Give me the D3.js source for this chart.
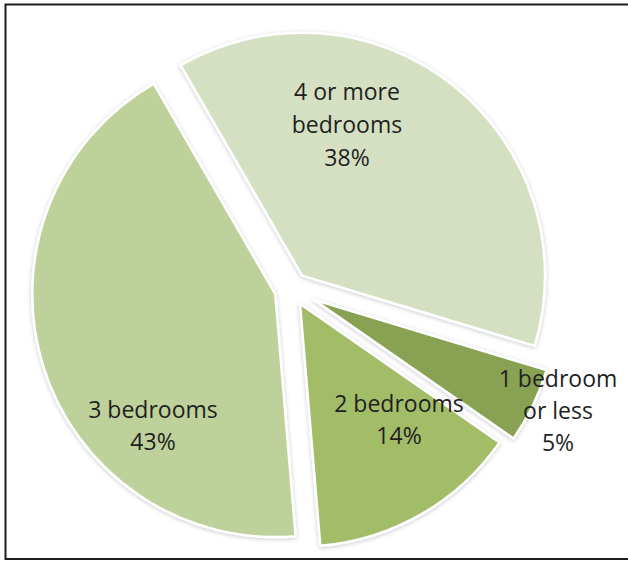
<!DOCTYPE html>
<html>
<head>
<meta charset="utf-8">
<script src="https://cdn.jsdelivr.net/npm/d3@7"></script>
<style>
  html, body { margin: 0; padding: 0; background: #fff; }
  svg { display: block; }
</style>
</head>
<body>
<svg id="chart" width="628" height="561"></svg>
<script>
// ---- data ----
const categories = ["4 or more bedrooms", "1 bedroom or less", "2 bedrooms", "3 bedrooms"];
const values = [38, 5, 14, 43];
const labelLines = [["4 or more", "bedrooms", "38%"], ["1 bedroom", "or less", "5%"], ["2 bedrooms", "14%"], ["3 bedrooms", "43%"]];
const colors = ["#d5e0c3", "#88a153", "#a3bc68", "#bfd19b"];
const explode = [17, 25, 17, 17];

const svg = d3.select("#chart");
const W = 628, H = 561;

// frame (right side cut off in the reference)
svg.append("path")
  .attr("d", `M${W + 2},4.5 H5.5 V559 H${W + 2}`)
  .attr("fill", "none").attr("stroke", "#1e1e1e").attr("stroke-width", 2);

const defs = svg.append("defs");
const f = defs.append("filter").attr("id", "sh").attr("x", "-10%").attr("y", "-10%").attr("width", "120%").attr("height", "120%");
f.append("feDropShadow").attr("dx", 0).attr("dy", 1).attr("stdDeviation", 2)
  .attr("flood-color", "#000").attr("flood-opacity", 0.22);

const cx = 291.5, cy = 289, R = 243;
const startA = -30 * Math.PI / 180;

const pie = d3.pie().sort(null).value(d => d)
  .startAngle(startA).endAngle(startA + 2 * Math.PI);
const arcs = pie(values);
const arc = d3.arc().innerRadius(0).outerRadius(R);

const g = svg.append("g").attr("transform", `translate(${cx},${cy})`);

g.selectAll("path.slice").data(arcs).enter().append("path")
  .attr("class", "slice")
  .attr("d", arc)
  .attr("transform", (d, i) => {
    const m = (d.startAngle + d.endAngle) / 2;
    return `translate(${Math.sin(m) * explode[i]},${-Math.cos(m) * explode[i]})`;
  })
  .attr("fill", (d, i) => colors[i])
  .attr("stroke", "#ffffff").attr("stroke-width", 2.5).attr("stroke-linejoin", "round")
  .attr("filter", "url(#sh)");

// label anchors (absolute positions of first baseline)
const labelPos = [[347, 100], [558, 387], [399, 412], [153, 418]];
const lineH = [33, 32, 32, 32];

const lg = svg.append("g")
  .attr("font-family", "'Open Sans', sans-serif")
  .attr("font-size", 23).attr("fill", "#1f1f1f").attr("text-anchor", "middle");

labelLines.forEach((lines, i) => {
  const t = lg.append("text").attr("x", labelPos[i][0]).attr("y", labelPos[i][1]);
  lines.forEach((s, j) => {
    t.append("tspan").attr("x", labelPos[i][0]).attr("dy", j === 0 ? 0 : lineH[i]).text(s);
  });
});
</script>
</body>
</html>
